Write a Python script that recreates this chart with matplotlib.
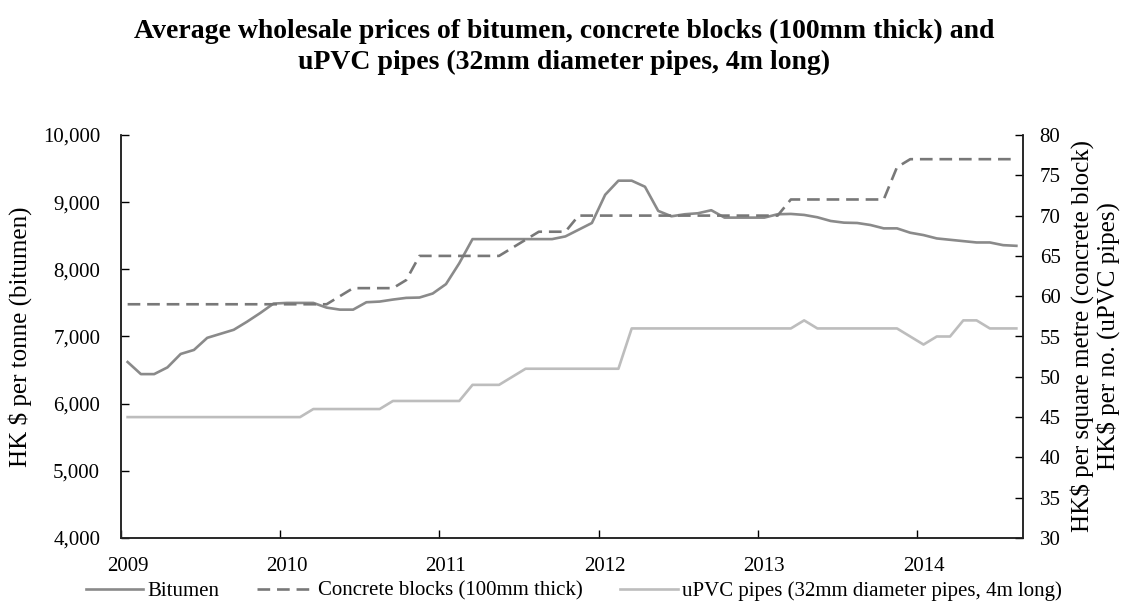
import numpy as np
import matplotlib
matplotlib.use("Agg")
import matplotlib.pyplot as plt

# ---------------- data (monthly, Jan 2009 - Aug 2014) ----------------
bitumen = [6620, 6440, 6440, 6540, 6740, 6800, 6980, 7040, 7100, 7220, 7350, 7490,
           7500, 7500, 7500, 7430, 7400, 7400, 7510, 7520, 7550, 7575, 7580, 7640,
           7780, 8090, 8450, 8450, 8450, 8450, 8450, 8450, 8450, 8490, 8590, 8690,
           9110, 9320, 9320, 9230, 8870, 8790, 8820, 8835, 8880, 8770, 8770, 8770,
           8770, 8820, 8825, 8810, 8775, 8720, 8695, 8690, 8660, 8610, 8610, 8545,
           8510, 8460, 8440, 8420, 8400, 8400, 8360, 8350]
concrete = [59] * 16 + [60] + [61] * 4 + [62] + [65] * 7 + [66, 67] + [68] * 3 + \
           [70] * 16 + [72] * 8 + [76] + [77] * 9
upvc = [45] * 14 + [46] * 6 + [47] * 6 + [49] * 3 + [50] + [51] * 8 + [56] * 13 + \
       [57] + [56] * 7 + [55, 54, 55, 55, 57, 57, 56, 56, 56]

year_labels = ["2009", "2010", "2011", "2012", "2013", "2014"]
left_ticks = [4000, 5000, 6000, 7000, 8000, 9000, 10000]
left_tick_labels = ["4,000", "5,000", "6,000", "7,000", "8,000", "9,000", "10,000"]
right_ticks = [30, 35, 40, 45, 50, 55, 60, 65, 70, 75, 80]

series_names = ["Bitumen", "Concrete blocks (100mm thick)",
                "uPVC pipes (32mm diameter pipes, 4m long)"]
title = ("Average wholesale prices of bitumen, concrete blocks (100mm thick) and\n"
         "uPVC pipes (32mm diameter pipes, 4m long)")

# ---------------- style ----------------
plt.rcParams['font.family'] = ['Liberation Serif', 'DejaVu Serif']
FS = 15
LFS = 18
c_bit = "#8a8a8a"
c_con = "#787878"
c_pvc = "#bdbdbd"
LW = 1.9

fig = plt.figure(figsize=(11.28, 6.05), dpi=100)
ax = fig.add_axes([121 / 1128, (605 - 538) / 605, (1023 - 121) / 1128, (538 - 135) / 605])
ax2 = ax.twinx()

n = len(bitumen)
x = np.arange(n) + 0.5

l1, = ax.plot(x, bitumen, color=c_bit, lw=LW, solid_joinstyle='round')
l2, = ax2.plot(x, concrete, color=c_con, lw=LW, dashes=(4.8, 2.6), dash_capstyle='butt')
l3, = ax2.plot(x, upvc, color=c_pvc, lw=LW, solid_joinstyle='round')

ax.set_xlim(0, n)
ax.set_ylim(left_ticks[0], left_ticks[-1])
ax2.set_ylim(right_ticks[0], right_ticks[-1])

# x ticks at January boundaries, labels at January centres
ax.set_xticks(np.arange(len(year_labels)) * 12)
ax.set_xticklabels([""] * len(year_labels))
ax.set_xticks(np.arange(len(year_labels)) * 12 + 0.5, minor=True)
ax.set_xticklabels(year_labels, minor=True)
ax.tick_params(axis='x', which='major', direction='in', length=6, width=1.0, pad=0)
ax.tick_params(axis='x', which='minor', length=0, pad=14, labelsize=FS)

ax.set_yticks(left_ticks)
ax.set_yticklabels(left_tick_labels)
ax.tick_params(axis='y', direction='in', length=6, width=1.0, pad=15, labelsize=FS)
ax2.set_yticks(right_ticks)
ax2.set_yticklabels([str(v) for v in right_ticks])
ax2.tick_params(axis='y', direction='in', length=6, width=1.0, pad=12, labelsize=FS)

for a in (ax, ax2):
    a.spines['top'].set_visible(False)
    for s in ('left', 'right', 'bottom'):
        a.spines[s].set_linewidth(1.1)
        a.spines[s].set_color('#222222')

ax.set_ylabel("HK $ per tonne (bitumen)", fontsize=LFS, labelpad=8)
ax2.set_ylabel("HK\\$ per square metre (concrete block)\nHK\\$ per no. (uPVC pipes)",
               fontsize=LFS, labelpad=7, multialignment='center', linespacing=1.12)

fig.text(0.5, 1 - 47 / 605, title, ha='center', va='center', fontsize=20,
         fontweight='bold', linespacing=1.3)

fig.legend([l1, l2, l3], series_names, loc='center', ncol=3,
           bbox_to_anchor=(0.5085, 1 - 591 / 605), frameon=False, fontsize=FS,
           handlelength=2.75, columnspacing=1.8, handletextpad=0.2,
           borderaxespad=0, borderpad=0)

fig.savefig("out.png", dpi=100)
